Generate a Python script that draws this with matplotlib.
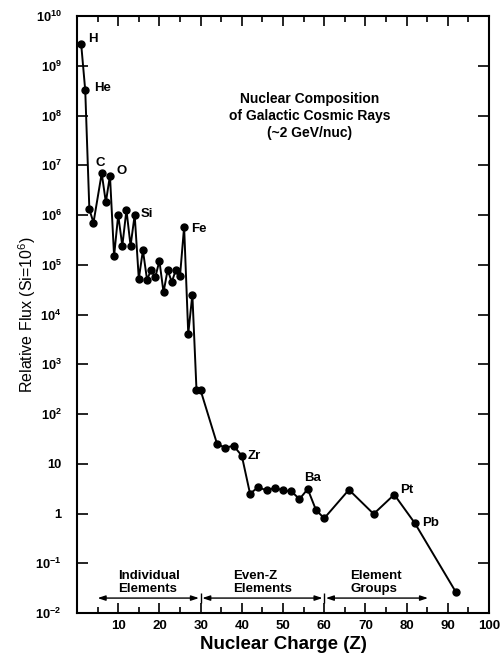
import numpy as np
import matplotlib.pyplot as plt
from matplotlib.ticker import FixedLocator, MultipleLocator, NullLocator

plt.rcParams['font.family'] = ['Liberation Sans', 'DejaVu Sans']
plt.rcParams['mathtext.fontset'] = 'custom'
plt.rcParams['mathtext.rm'] = 'Liberation Sans'
plt.rcParams['mathtext.bf'] = 'Liberation Sans:bold'

# ======================
# DATA
# ======================
z = [1, 2, 3, 4, 6, 7, 8, 9, 10, 11, 12, 13, 14, 15, 16, 17, 18, 19, 20,
     21, 22, 23, 24, 25, 26, 27, 28, 29, 30, 34, 36, 38, 40,
     42, 44, 46, 48, 50, 52, 54, 56, 58, 60, 66, 72, 77, 82, 92]
flux = [2.8e9, 3.2e8, 1.3e6, 7.0e5,
        6.9e6, 1.8e6, 6.2e6, 1.5e5, 1.0e6, 2.4e5, 1.26e6, 2.4e5, 1.0e6,
        5.2e4, 1.95e5, 5.0e4, 7.9e4, 5.6e4, 1.2e5,
        2.8e4, 7.9e4, 4.5e4, 7.9e4, 5.9e4, 5.8e5, 4.1e3, 2.5e4, 310, 300,
        25, 21, 23, 14.5,
        2.5, 3.4, 2.9, 3.3, 2.9, 2.8, 1.95, 3.1, 1.18, 0.8,
        3.0, 0.98, 2.4, 0.64, 0.026]

label_names = ["H", "He", "C", "O", "Si", "Fe", "Zr", "Ba", "Pt", "Pb"]
label_z = [1, 2, 6, 8, 14, 26, 40, 56, 77, 82]

group_names = ["Individual\nElements", "Even-Z\nElements", "Element\nGroups"]
group_text_x = [9.9, 37.8, 66.3]
group_spans = [(5.0, 29.6), (30.4, 59.6), (60.4, 85.2)]
group_bounds = [30, 60]

ytick_vals = [10.0**k for k in range(-2, 11)]
ytick_labels = [r"$\mathbf{10^{-2}}$", r"$\mathbf{10^{-1}}$", "1", "10"] + \
    [r"$\mathbf{10^{%d}}$" % k for k in range(2, 11)]

# ======================
# PLOT
# ======================
fig = plt.figure(figsize=(5.02, 6.57), dpi=100)
ax = fig.add_axes([77/502, 1-613/657, 412/502, 597/657])

ax.plot(z, flux, color="black", lw=1.4, marker="o", ms=5, mfc="black", mec="black")

ax.set_yscale("log")
ax.set_xlim(0, 100)
ax.set_ylim(1e-2, 1e10)

ax.xaxis.set_major_locator(MultipleLocator(10))
ax.xaxis.set_minor_locator(MultipleLocator(5))
ax.set_xticks(range(10, 101, 10))
ax.set_xticklabels([str(v) for v in range(10, 101, 10)], fontsize=9.5, fontweight="bold")

ax.yaxis.set_major_locator(FixedLocator(ytick_vals))
ax.yaxis.set_minor_locator(NullLocator())
ax.set_yticklabels(ytick_labels, fontsize=9.3, fontweight="bold")

ax.tick_params(which="both", direction="in", top=True, right=True, width=1.2)
ax.tick_params(axis="x", which="major", length=7, pad=5)
ax.tick_params(axis="x", which="minor", length=4.5)
ax.tick_params(axis="y", which="major", length=8, pad=11)

for s in ax.spines.values():
    s.set_linewidth(1.5)

ax.set_xlabel("Nuclear Charge (Z)", fontsize=13.5, fontweight="bold", labelpad=3)
ax.set_ylabel("Relative Flux (Si=10$^6$)", fontsize=11.5)
ax.yaxis.set_label_coords(-0.095, 0.5)

# element labels
offsets = {"H": (5, 3, "left"), "He": (6.5, 2, "left"), "C": (-1, 7.5, "center"),
           "O": (5, 3, "left"), "Si": (4, 0.5, "left"), "Fe": (5, -1.5, "left"),
           "Zr": (4, 0, "left"), "Ba": (3.5, 8, "center"), "Pt": (4.5, 3, "left"),
           "Pb": (5, 0, "left")}
for name, zz in zip(label_names, label_z):
    dx, dy, ha = offsets[name]
    ax.annotate(name, (zz, flux[z.index(zz)]), xytext=(dx, dy), textcoords="offset points",
                ha=ha, va="center", fontsize=9.5, fontweight="bold")

# group arrows at bottom
arrow_y = 10**-1.70
for (x0, x1) in group_spans:
    ax.annotate("", xy=(x1, arrow_y), xytext=(x0, arrow_y),
                arrowprops=dict(arrowstyle="<|-|>,head_length=0.45,head_width=0.15",
                                color="black", lw=1.0, shrinkA=0, shrinkB=0))
ax.vlines(group_bounds, 10**-1.80, 10**-1.60, color="black", lw=1.0)
for name, gx in zip(group_names, group_text_x):
    ax.text(gx, 10**-1.58, name, ha="left", va="baseline", fontsize=9.5,
            fontweight="bold", linespacing=1.1)

fig.text(310/502, 1-116/657, "Nuclear Composition\nof Galactic Cosmic Rays\n(~2 GeV/nuc)",
         ha="center", va="center", fontsize=10, fontweight="bold", linespacing=1.3)

plt.savefig("out.png", dpi=100)
